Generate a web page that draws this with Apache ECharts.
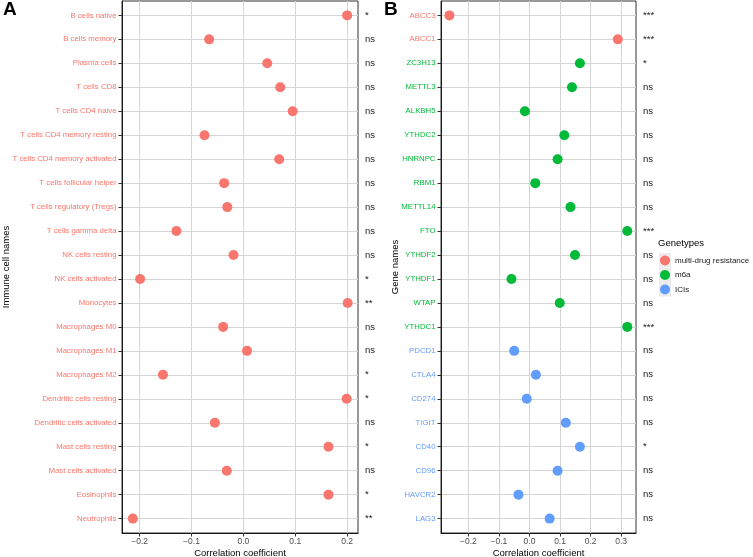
<!DOCTYPE html>
<html><head><meta charset="utf-8">
<script src="https://cdn.jsdelivr.net/npm/echarts@6/dist/echarts.min.js"></script>
<style>html,body{margin:0;padding:0;background:#fff}#c{width:753px;height:557px}#err{position:absolute;left:10px;top:10px;font:12px monospace;color:red;white-space:pre-wrap;width:700px}</style>
</head><body><div id="c"></div><div id="err"></div>
<script>
var chart;
window.onerror = function(m, s, l, c, e) { document.getElementById('err').textContent += m + ' @' + l + ':' + c + '\n'; };
// ---------- data ----------
var cellNames = ['B cells native','B cells memory','Plasma cells','T cells CD8','T cells CD4 naive',
  'T cells CD4 memory resting','T cells CD4 memory activated','T cells follicular helper',
  'T cells regulatory (Tregs)','T cells gamma delta','NK cells resting','NK cells activated','Monocytes',
  'Macrophages M0','Macrophages M1','Macrophages M2','Dendritic cells resting','Dendritic cells activated',
  'Mast cells resting','Mast cells activated','Eosinophils','Neutrophils'];
var cellCorr = [0.200,-0.066,0.046,0.071,0.095,-0.075,0.069,-0.037,-0.031,-0.129,-0.019,-0.199,0.201,
  -0.039,0.007,-0.155,0.199,-0.055,0.164,-0.032,0.164,-0.213];
var cellSig = ['*','ns','ns','ns','ns','ns','ns','ns','ns','ns','ns','*','**','ns','ns','*','*','ns','*','ns','*','**'];

var geneNames = ['ABCC3','ABCC1','ZC3H13','METTL3','ALKBH5','YTHDC2','HNRNPC','RBM1','METTL14','FTO',
  'YTHDF2','YTHDF1','WTAP','YTHDC1','PDCD1','CTLA4','CD274','TIGIT','CD40','CD96','HAVCR2','LAG3'];
var geneTypes = ['multi-drug resistance','multi-drug resistance','m6a','m6a','m6a','m6a','m6a','m6a','m6a','m6a',
  'm6a','m6a','m6a','m6a','ICIs','ICIs','ICIs','ICIs','ICIs','ICIs','ICIs','ICIs'];
var geneCorr = [-0.262,0.289,0.165,0.139,-0.015,0.114,0.092,0.019,0.134,0.320,0.149,-0.059,0.099,0.320,
  -0.050,0.021,-0.009,0.119,0.165,0.092,-0.036,0.066];
var geneSig = ['***','***','*','ns','ns','ns','ns','ns','ns','***','ns','ns','ns','***','ns','ns','ns','ns','*','ns','ns','ns'];

var typeNames = ['multi-drug resistance','m6a','ICIs'];
var typeColors = ['#F8766D','#00BA38','#619CFF'];
var xTicksA = [-0.2,-0.1,0.0,0.1,0.2];
var xTicksB = [-0.2,-0.1,0.0,0.1,0.2,0.3];

// ---------- chart ----------
var FONT = '"Liberation Sans", Arial, Helvetica, sans-serif';
var GRIDC = '#d4d4d4';
var idxA = cellNames.map(function (_, i) { return i; });
var idxB = geneNames.map(function (_, i) { return i; });

function fmtX(v) {
  var r = Math.round(v * 10) / 10;
  if (Math.abs(v - r) > 1e-6) return '';
  return (r < 0 ? '\u2212' : '') + Math.abs(r).toFixed(1);
}
function at(arr, v) {
  var n = Number(v), i = Math.round(n);
  if (Math.abs(n - i) > 1e-6 || i < 0 || i >= arr.length) return '';
  return arr[i];
}

function xAxisCfg(grid, min, max, ticks) {
  return {
    type: 'value', gridIndex: grid, min: min, max: max, minInterval: 0.05, maxInterval: 0.05,
    axisLine: { show: true, onZero: false, lineStyle: { color: '#1a1a1a', width: 1 } },
    axisTick: { show: true, length: 3.5, customValues: ticks, lineStyle: { color: '#333' } },
    axisLabel: { customValues: ticks, formatter: fmtX, fontSize: 8.5, color: '#4d4d4d', margin: 4, fontFamily: FONT },
    splitLine: { show: true, lineStyle: { color: GRIDC, width: 1 } },
    name: 'Correlation coefficient', nameLocation: 'middle', nameGap: 15, nameMoveOverlap: false,
    nameTextStyle: { fontSize: 9.5, color: '#000', fontFamily: FONT }
  };
}
function yLeftCfg(grid, names, idx, colorFn, title, gap) {
  return {
    type: 'value', gridIndex: grid, min: -0.6, max: names.length - 0.4, inverse: true,
    minInterval: 1, maxInterval: 1,
    axisLine: { show: true, onZero: false, lineStyle: { color: '#1a1a1a', width: 1 } },
    axisTick: { show: true, length: 3.5, customValues: idx, lineStyle: { color: '#333' } },
    axisLabel: { customValues: idx, formatter: function (v) { return at(names, v); }, color: colorFn,
      fontSize: 7.8, margin: 5.5, fontFamily: FONT },
    splitLine: { show: true, lineStyle: { color: GRIDC, width: 1 } },
    name: title, nameLocation: 'middle', nameGap: gap, nameMoveOverlap: false,
    nameTextStyle: { fontSize: 9.5, color: '#000', fontFamily: FONT }
  };
}
function yRightCfg(grid, sig, idx) {
  return {
    type: 'value', gridIndex: grid, position: 'right', min: -0.6, max: sig.length - 0.4, inverse: true,
    minInterval: 1, maxInterval: 1,
    axisLine: { show: false }, axisTick: { show: false }, splitLine: { show: false },
    axisLabel: { customValues: idx, formatter: function (v) { return at(sig, v); }, color: '#1a1a1a',
      fontSize: 9.5, margin: 7, fontFamily: FONT }
  };
}

var series = [{
  name: 'Immune cells', type: 'scatter', xAxisIndex: 0, yAxisIndex: 0, symbolSize: 10,
  itemStyle: { color: '#F8766D', opacity: 1 },
  data: cellCorr.map(function (v, i) { return [v, i]; })
}];
typeNames.forEach(function (t, k) {
  var d = [];
  geneNames.forEach(function (g, i) { if (geneTypes[i] === t) d.push([geneCorr[i], i]); });
  series.push({
    name: t, type: 'scatter', xAxisIndex: 1, yAxisIndex: 2, symbolSize: 10,
    itemStyle: { color: typeColors[k], opacity: 1 }, data: d
  });
});

function geneColor(v) {
  var s = at(geneNames, v);
  if (!s) return '#000';
  return typeColors[typeNames.indexOf(geneTypes[geneNames.indexOf(s)])];
}

var option = {
  animation: false,
  backgroundColor: '#fff',
  textStyle: { fontFamily: FONT },
  title: [
    { text: 'A', left: 3, top: 0, padding: 0, textStyle: { fontSize: 19, fontWeight: 'bold', color: '#000', fontFamily: FONT } },
    { text: 'B', left: 384, top: 0, padding: 0, textStyle: { fontSize: 19, fontWeight: 'bold', color: '#000', fontFamily: FONT } },
    { text: 'Genetypes', left: 658, top: 238, padding: 0, textStyle: { fontSize: 9.5, fontWeight: 'normal', color: '#000', fontFamily: FONT } }
  ],
  grid: [
    { left: 122, top: 1, width: 236, height: 532, show: true, borderColor: '#333', borderWidth: 1, containLabel: false, outerBoundsMode: 'none' },
    { left: 441, top: 1, width: 195, height: 532, show: true, borderColor: '#333', borderWidth: 1, containLabel: false, outerBoundsMode: 'none' }
  ],
  xAxis: [ xAxisCfg(0, -0.2339, 0.2209, xTicksA), xAxisCfg(1, -0.2895, 0.3485, xTicksB) ],
  yAxis: [
    yLeftCfg(0, cellNames, idxA, '#F8766D', 'Immune cell names', 111),
    yRightCfg(0, cellSig, idxA),
    yLeftCfg(1, geneNames, idxB, geneColor, 'Gene names', 41),
    yRightCfg(1, geneSig, idxB)
  ],
  legend: [
    { data: typeNames, orient: 'vertical', left: 659, top: 253, padding: 0, itemGap: 0,
      itemWidth: 12, itemHeight: 14.5, icon: 'rect', selectedMode: false, z: 1,
      itemStyle: { color: '#ececec' }, textStyle: { color: 'rgba(0,0,0,0)', fontSize: 8 } },
    { data: typeNames, orient: 'vertical', left: 660, top: 255.5, padding: 0, itemGap: 4.5,
      itemWidth: 10, itemHeight: 10, icon: 'circle', selectedMode: false, z: 3,
      textStyle: { color: '#1a1a1a', fontSize: 8, fontFamily: FONT } }
  ],
  series: series
};
try {
  chart = echarts.init(document.getElementById('c'), null, { renderer: 'canvas' });
  window.chart = chart;
  chart.setOption(option);
} catch (e) {
  document.getElementById('err').textContent += 'ERR: ' + e.message + '\n' + (e.stack || '');
}
</script></body></html>
